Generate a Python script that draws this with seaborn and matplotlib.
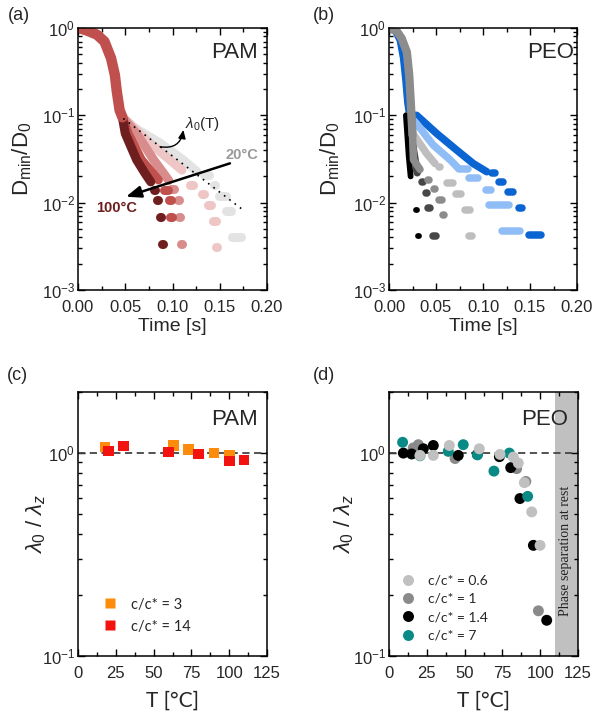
import numpy as np
import pandas as pd
import seaborn as sns
import matplotlib.pyplot as plt
from matplotlib.ticker import MultipleLocator, NullFormatter
from matplotlib.lines import Line2D

sns.set_style("ticks")
plt.rcParams['font.family'] = ['Liberation Sans', 'DejaVu Sans']
plt.rcParams['mathtext.fontset'] = 'custom'
plt.rcParams['mathtext.rm'] = 'Liberation Sans'
plt.rcParams['mathtext.it'] = 'Liberation Sans:italic'
plt.rcParams['mathtext.bf'] = 'Liberation Sans:bold'

## (a) PAM: D_min/D_0 vs time
pam_head_t = [0.001, 0.010, 0.020, 0.028, 0.035, 0.039, 0.041, 0.044, 0.047]
pam_head_d = [1.0, 0.93, 0.84, 0.70, 0.45, 0.29, 0.19, 0.115, 0.095]
pam_temps = ['20', '40', '60', '80', '100']
pam_colors = ['#e3e3e3', '#eec6c6', '#d88c8c', '#c0504d', '#6e1e1e']
pam_tail_t = [[0.047, 0.058, 0.087, 0.111, 0.126],
              [0.047, 0.053, 0.076, 0.097, 0.110],
              [0.047, 0.062, 0.080, 0.096],
              [0.047, 0.053, 0.067, 0.085],
              [0.047, 0.050, 0.062, 0.071, 0.077]]
pam_tail_d = [[0.095, 0.074, 0.048, 0.031, 0.0226],
              [0.095, 0.084, 0.048, 0.031, 0.0236],
              [0.095, 0.062, 0.031, 0.018],
              [0.095, 0.062, 0.031, 0.0182],
              [0.095, 0.062, 0.031, 0.0216, 0.0173]]
pam_step_t0 = [[0.133, 0.144, 0.149, 0.157, 0.163],
               [0.119, 0.131, 0.138, 0.143, 0.1465],
               [0.098, 0.1055, 0.107, 0.1095],
               [0.091, 0.096, 0.097],
               [0.080, 0.084, 0.087, 0.0893]]
pam_step_t1 = [[0.139, 0.145, 0.157, 0.162, 0.173],
               [0.122, 0.133, 0.141, 0.146, 0.1470],
               [0.102, 0.1065, 0.108, 0.1100],
               [0.095, 0.098, 0.099],
               [0.081, 0.0845, 0.0875, 0.0898]]
pam_step_d = [[0.0205, 0.0159, 0.0120, 0.0080, 0.0040],
              [0.0159, 0.0126, 0.0093, 0.0062, 0.0031],
              [0.0142, 0.0107, 0.0069, 0.0034],
              [0.0139, 0.0107, 0.0068],
              [0.0139, 0.0107, 0.0069, 0.0034]]
lam_fit_t = [0.048, 0.175]
lam_fit_d = [0.092, 0.0082]

## (b) PEO
peo_names = ['blue', 'lightblue', 'black', 'darkgray', 'silver', 'gray']
peo_colors = ['#0a64d2', '#90bdf5', '#000000', '#474747', '#bebebe', '#8c8c8c']
peo_fast_head_t = [0.0, 0.006, 0.011, 0.0145, 0.017, 0.019, 0.021]
peo_fast_head_d = [1.0, 0.92, 0.72, 0.45, 0.25, 0.14, 0.10]
peo_head_t = [0.0, 0.008, 0.0135, 0.019, 0.0215, 0.0235, 0.025]
peo_head_d = [1.0, 0.93, 0.76, 0.53, 0.29, 0.12, 0.06]
peo_tail_t = [[0.021, 0.0294, 0.0507, 0.072, 0.0897, 0.104],
              [0.021, 0.029, 0.047, 0.065, 0.0737],
              [0.018, 0.0195, 0.021, 0.023],
              [0.0235, 0.026, 0.030],
              [0.025, 0.0277, 0.040, 0.049],
              [0.025, 0.026, 0.033]]
peo_tail_d = [[0.10, 0.10, 0.062, 0.040, 0.028, 0.0226],
              [0.10, 0.081, 0.0457, 0.031, 0.0248],
              [0.10, 0.059, 0.034, 0.020],
              [0.12, 0.04, 0.022],
              [0.06, 0.057, 0.0366, 0.028],
              [0.06, 0.031, 0.024]]
peo_step_t0 = [[0.110, 0.117, 0.127, 0.138, 0.149],
               [0.074, 0.085, 0.103, 0.106, 0.120],
               [0.0250, 0.0275, 0.0292, 0.0310],
               [0.035, 0.039, 0.041, 0.047],
               [0.053, 0.062, 0.071, 0.081, 0.085],
               [0.042, 0.048, 0.053, 0.0578, 0.0612]]
peo_step_t1 = [[0.113, 0.121, 0.132, 0.142, 0.162],
               [0.084, 0.095, 0.109, 0.128, 0.139],
               [0.0254, 0.0279, 0.0296, 0.0314],
               [0.036, 0.040, 0.044, 0.050],
               [0.054, 0.068, 0.077, 0.086, 0.088],
               [0.043, 0.0485, 0.056, 0.0582, 0.0616]]
peo_step_d = [[0.0220, 0.0174, 0.0133, 0.0087, 0.0043],
              [0.0240, 0.0193, 0.0141, 0.0095, 0.0048],
              [0.0163, 0.0120, 0.0082, 0.0041],
              [0.0174, 0.0128, 0.0086, 0.0042],
              [0.0258, 0.0166, 0.0125, 0.0082, 0.0041],
              [0.0180, 0.0144, 0.0107, 0.0072, 0.0035]]

## (c) PAM lambda_0 / lambda_z
pam3_T = [17.9, 63.1, 73.0, 90.0, 100.1]
pam3_lam = [1.07, 1.09, 1.04, 1.00, 0.974]
pam14_T = [20.1, 30.0, 59.8, 79.6, 100.1, 109.8]
pam14_lam = [1.023, 1.08, 1.01, 0.99, 0.913, 0.928]

## (d) PEO lambda_0 / lambda_z
peo06_T = [20.5, 29.3, 39.9, 59.7, 73.4, 82.2, 85.5, 89.5, 94.4, 99.9]
peo06_lam = [0.974, 0.974, 1.09, 1.05, 0.985, 0.955, 0.893, 0.715, 0.513, 0.351]
peo1_T = [16.0, 19.4, 43.7, 84.4, 90.5, 98.8]
peo1_lam = [1.06, 1.10, 0.94, 0.838, 0.725, 0.167]
peo14_T = [9.5, 15.0, 22.7, 29.3, 45.8, 58.4, 73.0, 80.5, 86.6, 95.5, 104.3]
peo14_lam = [1.0, 0.99, 1.05, 1.09, 0.974, 0.985, 0.96, 0.848, 0.597, 0.351, 0.150]
peo7_T = [9.0, 20.5, 39.2, 49.1, 58.5, 69.4, 79.6, 91.7]
peo7_lam = [1.13, 0.97, 1.02, 1.10, 0.98, 0.815, 1.0, 0.612]


def curve_frame(tail_t, tail_d, t0, t1, d):
    rows = [(0, t, y) for t, y in zip(tail_t, tail_d)]
    for k, (a, b, y) in enumerate(zip(t0, t1, d), start=1):
        rows += [(k, a, y), (k, b, y)]
    return pd.DataFrame(rows, columns=['seg', 't', 'd'])


def draw_curve(ax, df, color, lw):
    sns.lineplot(data=df, x='t', y='d', units='seg', estimator=None, sort=False,
                 color=color, lw=lw, solid_capstyle='round', ax=ax, legend=False)


def style_axes(ax):
    ax.tick_params(which='both', direction='in', top=True, right=True, labelsize=12,
                   width=1, color='k')
    ax.tick_params(which='major', length=5)
    ax.tick_params(which='minor', length=3)
    ax.tick_params(axis='x', which='major', pad=7)
    ax.tick_params(axis='y', which='major', pad=2)
    for s in ax.spines.values():
        s.set_linewidth(1.1)
        s.set_color('k')


fig = plt.figure(figsize=(5.92, 7.23), dpi=100)
ax_a = fig.add_axes([78/592, 1-290/723, 189/592, 262/723])
ax_b = fig.add_axes([389/592, 1-290/723, 188/592, 262/723])
ax_c = fig.add_axes([78/592, 1-656/723, 189/592, 264/723])
ax_d = fig.add_axes([389/592, 1-656/723, 189/592, 264/723])

## panel (a)
for i in range(len(pam_temps)):
    df = curve_frame(pam_tail_t[i], pam_tail_d[i], pam_step_t0[i], pam_step_t1[i], pam_step_d[i])
    draw_curve(ax_a, df, pam_colors[i], 6.5)
sns.lineplot(x=pam_head_t, y=pam_head_d, sort=False, estimator=None, color=pam_colors[3],
             lw=7.5, solid_capstyle='round', ax=ax_a)
sns.lineplot(x=lam_fit_t, y=lam_fit_d, sort=False, estimator=None, color='k', lw=1.2,
             ls=(0, (1, 3)), ax=ax_a)

ax_a.annotate('', xy=(0.0508, 0.0117), xytext=(0.1608, 0.0282),
              arrowprops=dict(arrowstyle='-|>,head_length=0.9,head_width=0.35', color='k',
                              lw=1.8, shrinkA=0, shrinkB=0))
ax_a.annotate('', xy=(0.1115, 0.068), xytext=(0.0868, 0.0437),
              arrowprops=dict(arrowstyle='-|>,head_length=0.5,head_width=0.22', color='k',
                              lw=1, shrinkA=0, shrinkB=0, connectionstyle='arc3,rad=0.5'))
ax_a.text(0.113, 0.072, r'$\lambda_{0}$(T)', fontsize=11)
ax_a.text(0.1556, 0.0351, '20°C', fontsize=10.5, fontweight='bold', color='#999999', va='center')
ax_a.text(0.0195, 0.0087, '100°C', fontsize=10.5, fontweight='bold', color='#6e1e1e', va='center')
ax_a.text(0.954, 0.908, 'PAM', transform=ax_a.transAxes, fontsize=16, ha='right', va='center')

## panel (b)
sns.lineplot(x=peo_fast_head_t, y=peo_fast_head_d, sort=False, estimator=None,
             color=peo_colors[0], lw=4, solid_capstyle='round', ax=ax_b)
for i in range(len(peo_names)):
    df = curve_frame(peo_tail_t[i], peo_tail_d[i], peo_step_t0[i], peo_step_t1[i], peo_step_d[i])
    draw_curve(ax_b, df, peo_colors[i], 4.2 if i == 2 else 5.4)
sns.lineplot(x=peo_head_t, y=peo_head_d, sort=False, estimator=None, color=peo_colors[5],
             lw=6, solid_capstyle='round', ax=ax_b)
ax_b.text(0.985, 0.908, 'PEO', transform=ax_b.transAxes, fontsize=16, ha='right', va='center')

for ax in (ax_a, ax_b):
    ax.set_yscale('log')
    ax.set_xlim(0, 0.2)
    ax.set_ylim(1e-3, 1)
    ax.xaxis.set_major_locator(MultipleLocator(0.05))
    ax.xaxis.set_minor_locator(MultipleLocator(0.025))
    ax.xaxis.set_major_formatter(lambda v, p: f'{v:.2f}')
    ax.yaxis.set_minor_formatter(NullFormatter())
    ax.set_xlabel('Time [s]', fontsize=14)
    ax.xaxis.set_label_coords(0.5, -0.105)
    ax.set_ylabel(r'D$_{\rm min}$/D$_{0}$', fontsize=16)
    style_axes(ax)
ax_a.yaxis.set_label_coords(-0.235, 0.5)
ax_b.yaxis.set_label_coords(-0.25, 0.5)

## panel (c)
sns.scatterplot(x=pam3_T, y=pam3_lam, marker='s', s=55, color='#fd8c0c', edgecolor='none',
                ax=ax_c, zorder=3)
sns.scatterplot(x=pam14_T, y=pam14_lam, marker='s', s=55, color='#f2120f', edgecolor='none',
                ax=ax_c, zorder=3)
ax_c.text(0.954, 0.894, 'PAM', transform=ax_c.transAxes, fontsize=16, ha='right', va='center')
h_c = [Line2D([], [], marker='s', ls='', markersize=7.4, color=c, markeredgecolor='none')
       for c in ['#fd8c0c', '#f2120f']]
ax_c.legend(h_c, ['c/c* = 3', 'c/c* = 14'], loc='lower left', bbox_to_anchor=(0.133, 0.085),
            borderpad=0, borderaxespad=0, handlelength=1.0, handletextpad=0.9,
            labelspacing=0.55, frameon=False, prop={'family': 'Lato', 'size': 10.5})

## panel (d)
ax_d.axvspan(110, 125, color='#c0c0c0', lw=0, zorder=0)
ax_d.text(116.5, 0.40, 'Phase separation at rest', transform=ax_d.get_xaxis_transform(),
          rotation=90, ha='center', va='center', fontsize=10, family='Liberation Serif',
          color='#222222')
peo_pts = [(peo1_T, peo1_lam, '#8a8a8a'), (peo14_T, peo14_lam, '#000000'),
           (peo7_T, peo7_lam, '#0a8a86'), (peo06_T, peo06_lam, '#c0c0c0')]
for T, lam, c in peo_pts:
    sns.scatterplot(x=T, y=lam, marker='o', s=62, color=c, edgecolor='none', ax=ax_d, zorder=3)
ax_d.text(0.947, 0.894, 'PEO', transform=ax_d.transAxes, fontsize=16, ha='right', va='center')
h_d = [Line2D([], [], marker='o', ls='', markersize=7.9, color=c, markeredgecolor='none')
       for c in ['#c0c0c0', '#8a8a8a', '#000000', '#0a8a86']]
ax_d.legend(h_d, ['c/c* = 0.6', 'c/c* = 1', 'c/c* = 1.4', 'c/c* = 7'], loc='lower left',
            bbox_to_anchor=(0.066, 0.055), borderpad=0, borderaxespad=0, handlelength=1.0,
            handletextpad=0.9, labelspacing=0.45, frameon=False,
            prop={'family': 'Lato', 'size': 10})

for ax in (ax_c, ax_d):
    ax.axhline(1, color='#444444', ls=(0, (4, 2.5)), lw=1.3, zorder=1)
    ax.set_yscale('log')
    ax.set_xlim(0, 125)
    ax.set_ylim(0.1, 2)
    ax.xaxis.set_major_locator(MultipleLocator(25))
    ax.xaxis.set_minor_locator(MultipleLocator(12.5))
    ax.yaxis.set_minor_formatter(NullFormatter())
    ax.set_xlabel('T [°C]', fontsize=15, family='Lato')
    ax.xaxis.set_label_coords(0.5, -0.13)
    ax.set_ylabel(r'$\lambda_0$ / $\lambda_z$', fontsize=16)
    style_axes(ax)
ax_c.yaxis.set_label_coords(-0.16, 0.5)
ax_d.yaxis.set_label_coords(-0.175, 0.5)

for lab, x, y in [('(a)', 8, 15), ('(b)', 313, 15), ('(c)', 7, 375), ('(d)', 313, 375)]:
    fig.text(x/592, 1-y/723, lab, fontsize=13, va='center', ha='left')

fig.savefig('out.png', dpi=100)
